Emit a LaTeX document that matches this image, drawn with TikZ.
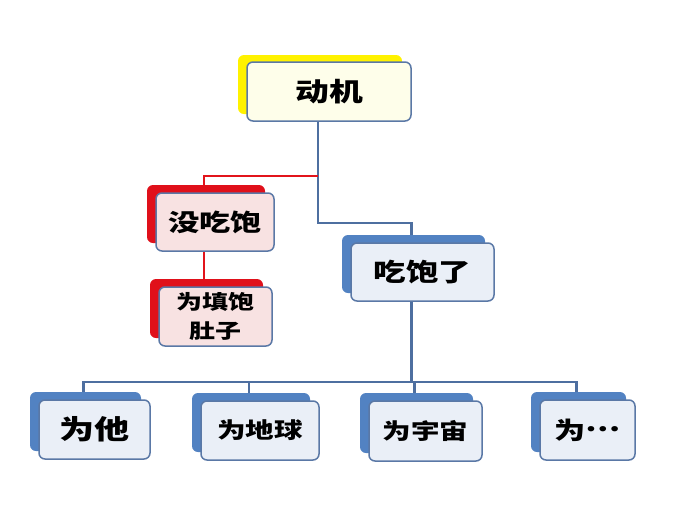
\documentclass[tikz,border=0pt]{standalone}
\usepackage{fontspec}
\newfontfamily\cjk[FakeStretch=1.3]{Noto Sans CJK SC}
\usetikzlibrary{shadows,backgrounds}
\definecolor{bordc}{HTML}{5A78A6}
\definecolor{linec}{HTML}{4E6FA0}
\definecolor{redc}{HTML}{E2141B}
\definecolor{shy}{HTML}{FFF200}
\definecolor{shr}{HTML}{E0101A}
\definecolor{shb}{HTML}{5282C2}
\definecolor{fy}{HTML}{FEFEEA}
\definecolor{fp}{HTML}{F8E2E2}
\definecolor{fb}{HTML}{EAEFF7}
\begin{document}
\begin{tikzpicture}[x=1pt,y=-1pt,
  box/.style={draw=bordc, line width=1.5pt, rounded corners=6pt, inner sep=0pt, align=center, font=\cjk\bfseries},
  yshad/.style={general shadow={shadow xshift=-9pt, shadow yshift=7pt, fill=shy, rounded corners=4pt}},
  rshad/.style={general shadow={shadow xshift=-9pt, shadow yshift=8pt, fill=shr, rounded corners=4pt}},
  bshad/.style={general shadow={shadow xshift=-9pt, shadow yshift=8pt, fill=shb, rounded corners=4pt}},
  bline/.style={draw=linec, line width=2.2pt},
  rline/.style={draw=redc, line width=2.2pt}]
\useasboundingbox (0,0) rectangle (690,517);

\node[box, yshad, fill=fy, minimum width=164pt, minimum height=59pt, font=\cjk\bfseries\fontsize{26}{28}\selectfont] (dj) at (329,91.5) {动机};
\node[box, rshad, fill=fp, minimum width=118pt, minimum height=58pt, font=\cjk\bfseries\fontsize{24}{26}\selectfont] (mcb) at (215,222) {没吃饱};
\node[box, rshad, fill=fp, minimum width=113pt, minimum height=59pt, font=\cjk\bfseries\fontsize{20}{29}\selectfont] (tb) at (215.5,316.5) {为填饱\\肚子};
\node[box, bshad, fill=fb, minimum width=143pt, minimum height=58pt, font=\cjk\bfseries\fontsize{25}{27}\selectfont] (cbl) at (422.5,272) {吃饱了};
\node[box, bshad, fill=fb, minimum width=111pt, minimum height=59pt, font=\cjk\bfseries\fontsize{27}{29}\selectfont] (wt) at (94.5,429.5) {为他};
\node[box, bshad, fill=fb, minimum width=118pt, minimum height=59pt, font=\cjk\bfseries\fontsize{22}{24}\selectfont] (wdq) at (260,430.5) {为地球};
\node[box, bshad, fill=fb, minimum width=113pt, minimum height=60pt, font=\cjk\bfseries\fontsize{22}{24}\selectfont] (wyz) at (425.5,431) {为宇宙};
\node[box, bshad, fill=fb, minimum width=95pt, minimum height=60pt, font=\cjk\bfseries\fontsize{24}{26}\selectfont] (wdd) at (587.5,430) {为\raisebox{0.3em}{…}};

\begin{scope}[on background layer]
\fill[white] (0,0) rectangle (690,517);
\draw[bline] ([xshift=-11pt]dj.south) |- ([xshift=-11pt,yshift=-101pt]dj.south) -| ([xshift=-11pt]cbl.north);
\draw[rline] ([xshift=-11pt,yshift=-54pt]dj.south) -| ([xshift=-11pt]mcb.north);
\draw[rline] ([xshift=-11pt]mcb.south) -- ([xshift=-11pt]mcb.south |- tb.north);
\foreach \n in {wt,wdq,wyz,wdd}
  \draw[bline] ([xshift=-11pt]cbl.south) -- ([xshift=-11pt,yshift=-80pt]cbl.south) -| ([xshift=-11pt]\n.north);
\end{scope}
\end{tikzpicture}
\end{document}
